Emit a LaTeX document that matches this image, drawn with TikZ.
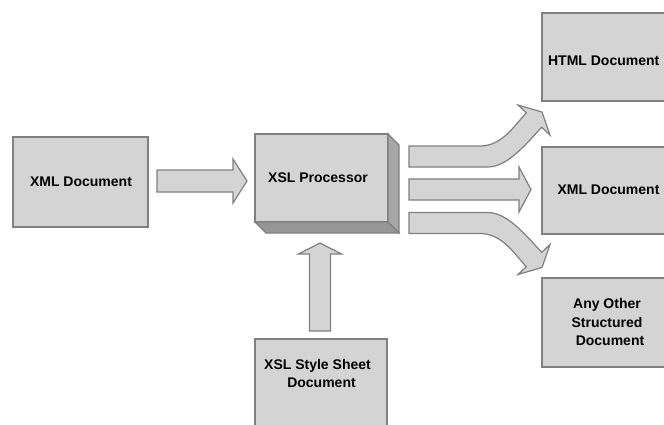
\documentclass[tikz,border=0pt]{standalone}
\usepackage{fontspec}
\setmainfont{Liberation Sans}
\definecolor{fillgray}{RGB}{212,212,212}
\definecolor{edgegray}{RGB}{128,128,128}
\definecolor{sidegray}{RGB}{166,166,166}
\definecolor{botgray}{RGB}{150,150,150}
\begin{document}
\begin{tikzpicture}[x=1pt,y=-1pt,
  shp/.style={fill=fillgray,draw=edgegray,line width=1.2pt,line join=miter},
  box/.style={shp,rectangle,inner sep=0pt,outer sep=0pt},
  lbl/.style={font=\fontsize{14}{18.6}\selectfont\bfseries,align=center,inner sep=0pt,text=black}]
\fill[white] (0,0) rectangle (664,424);
\useasboundingbox (0,0) rectangle (664,424);
\clip (0,0) rectangle (664,424);

% boxes
\node[box,minimum width=135pt,minimum height=90pt] (xmlin) at (80.5,182) {};
\node[lbl] (xmlinT) at (81,181.5) {XML Document};

\node[box,minimum width=133pt,minimum height=88pt] (proc) at (321.5,178) {};
\fill[sidegray,draw=edgegray,line width=1.2pt] (proc.north east) -- ++(11,11) -- ++(0,88) -- ++(-11,-11) -- cycle;
\fill[botgray,draw=edgegray,line width=1.2pt] (proc.south west) -- ++(11,11) -- ++(133,0) -- (proc.south east) -- cycle;
\node[lbl] (procT) at (318,178) {XSL Processor};

\node[box,minimum width=132pt,minimum height=91pt] (xsl) at (321,384.5) {};
\node[lbl] (xslT) at (317.5,373.5) {XSL Style Sheet\\\hspace*{8pt}Document};

\node[box,minimum width=123.4pt,minimum height=88pt] (html) at (603.7,57) {};
\node[lbl] (htmlT) at (603.7,61) {HTML Document};

\node[box,minimum width=134pt,minimum height=87pt] (xmlout) at (609,190.5) {};
\node[lbl] (xmloutT) at (608.5,190) {XML Document};

\node[box,minimum width=130pt,minimum height=89pt] (other) at (607,322.5) {};
\node[lbl] (otherT) at (607,322) {Any Other\\Structured\\\hspace*{6pt}Document};

% straight arrows
\filldraw[shp] (157,170) -- (233,170) -- (233,159) -- (247,181) -- (233,203) -- (233,192) -- (157,192) -- cycle;
\filldraw[shp] (309.5,331) -- (309.5,254) -- (298.5,254) -- (320,243) -- (341.5,254) -- (330.5,254) -- (330.5,331) -- cycle;
\filldraw[shp] (409,179) -- (519,179) -- (519,167) -- (531,189.5) -- (519,212) -- (519,200) -- (409,200) -- cycle;

% curved arrow up
\filldraw[shp] (409,146) -- (480,146) .. controls (502,146) and (514,126) .. (526.3,112.8)
  -- (518,105) -- (542,112) -- (550,135) -- (541.7,127.2)
  .. controls (528,141.8) and (508,167) .. (488,167) -- (409,167) -- cycle;

% curved arrow down
\filldraw[shp] (409,233.5) -- (480,233.5) .. controls (502,233.5) and (514,253.5) .. (526.3,266.7)
  -- (518,274.5) -- (542,267.5) -- (550,244.5) -- (541.7,252.3)
  .. controls (528,237.7) and (508,212.5) .. (488,212.5) -- (409,212.5) -- cycle;
\end{tikzpicture}
\end{document}
